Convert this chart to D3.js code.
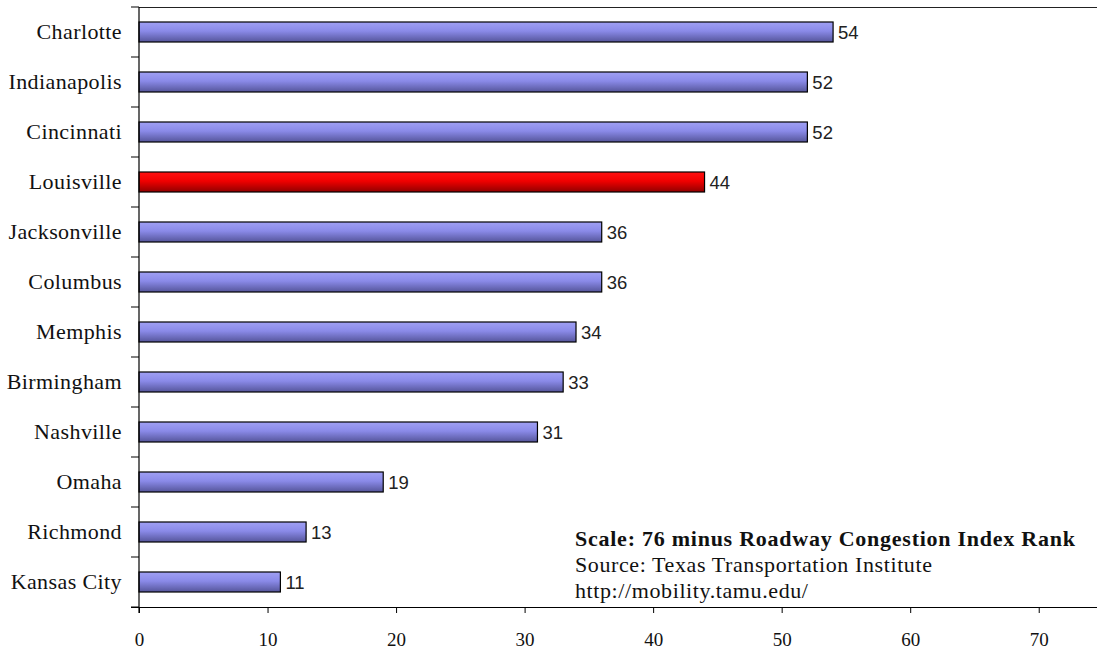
<!DOCTYPE html>
<html><head><meta charset="utf-8">
<script src="https://cdn.jsdelivr.net/npm/d3@7"></script>
<style>body{margin:0;background:#fff}svg{display:block}</style>
</head><body>
<svg id="c" width="1097" height="652"></svg>
<script>
const cities = ["Charlotte","Indianapolis","Cincinnati","Louisville","Jacksonville","Columbus","Memphis","Birmingham","Nashville","Omaha","Richmond","Kansas City"];
const values = [54,52,52,44,36,36,34,33,31,19,13,11];
const highlight = "Louisville";
const xTicks = [0,10,20,30,40,50,60,70];
const notes = ["Scale: 76 minus Roadway Congestion Index Rank","Source: Texas Transportation Institute","http://mobility.tamu.edu/"];

(function(){
const svg = d3.select("#c");
const mL = 139, mT = 7, mB = 607, mR = 1103;
const serif = "'Liberation Serif', 'Times New Roman', serif";
const x = d3.scaleLinear().domain([0,75]).range([mL,mR]);
const y = d3.scaleBand().domain(cities).range([mT,mB]).paddingInner(0.6).paddingOuter(0.3);
const yb = d3.scaleBand().domain(cities).range([mT,mB]);

const defs = svg.append("defs");
const gb = defs.append("linearGradient").attr("id","gb").attr("x1",0).attr("y1",0).attr("x2",0).attr("y2",1);
gb.append("stop").attr("offset","0%").attr("stop-color","#a0a0f4");
gb.append("stop").attr("offset","45%").attr("stop-color","#8a8ae8");
gb.append("stop").attr("offset","100%").attr("stop-color","#55559a");
const gr = defs.append("linearGradient").attr("id","gr").attr("x1",0).attr("y1",0).attr("x2",0).attr("y2",1);
gr.append("stop").attr("offset","0%").attr("stop-color","#ff1010");
gr.append("stop").attr("offset","45%").attr("stop-color","#f00000");
gr.append("stop").attr("offset","100%").attr("stop-color","#900000");

svg.append("line").attr("x1",mL).attr("x2",1097).attr("y1",mT+0.5).attr("y2",mT+0.5).attr("stroke","#222").attr("stroke-width",1.2);

svg.selectAll("rect.bar").data(cities).enter().append("rect")
  .attr("x",mL).attr("y",d=>y(d))
  .attr("width",(d,i)=>x(values[i])-mL).attr("height",y.bandwidth())
  .attr("fill",d=>d===highlight?"url(#gr)":"url(#gb)")
  .attr("stroke","#000").attr("stroke-width",1.2);

svg.selectAll("text.val").data(cities).enter().append("text")
  .attr("x",(d,i)=>x(values[i])+5).attr("y",d=>y(d)+y.bandwidth()/2)
  .attr("dy","0.36em").attr("font-family","'Liberation Sans', Arial, sans-serif")
  .attr("font-size",18.5).attr("fill","#222").text((d,i)=>values[i]);

const yAxis = svg.append("g");
yAxis.append("line").attr("x1",mL).attr("x2",mL).attr("y1",mT).attr("y2",mB+6).attr("stroke","#000").attr("stroke-width",1.2);
yAxis.selectAll("line.t").data(d3.range(cities.length+1)).enter().append("line")
  .attr("x1",mL-8).attr("x2",mL).attr("y1",i=>mT+i*yb.step()).attr("y2",i=>mT+i*yb.step()).attr("stroke","#000");
yAxis.selectAll("text").data(cities).enter().append("text")
  .attr("x",mL-17).attr("y",d=>yb(d)+yb.bandwidth()/2).attr("dy","0.33em")
  .attr("text-anchor","end").attr("font-family",serif).attr("font-size",22).attr("letter-spacing","0.4px")
  .attr("fill","#111").text(d=>d);

const xa = svg.append("g").attr("transform",`translate(0,${mB})`)
  .call(d3.axisBottom(x).tickValues(xTicks).tickSize(6).tickPadding(20).tickSizeOuter(0));
xa.select(".domain").attr("d",`M${mL-8},0.5H1097`).attr("stroke","#000").attr("stroke-width",1.2);
xa.selectAll("text").attr("font-family",serif).attr("font-size",19).attr("fill","#111");

svg.selectAll("text.note").data(notes).enter().append("text")
  .attr("x",575).attr("y",(d,i)=>546+i*26)
  .attr("font-family",serif).attr("font-size",22).attr("font-weight",(d,i)=>i===0?"bold":"normal")
  .attr("letter-spacing",(d,i)=>i===0?"0.75px":"0.6px")
  .attr("fill","#111").text(d=>d);
})();
</script>
</body></html>
